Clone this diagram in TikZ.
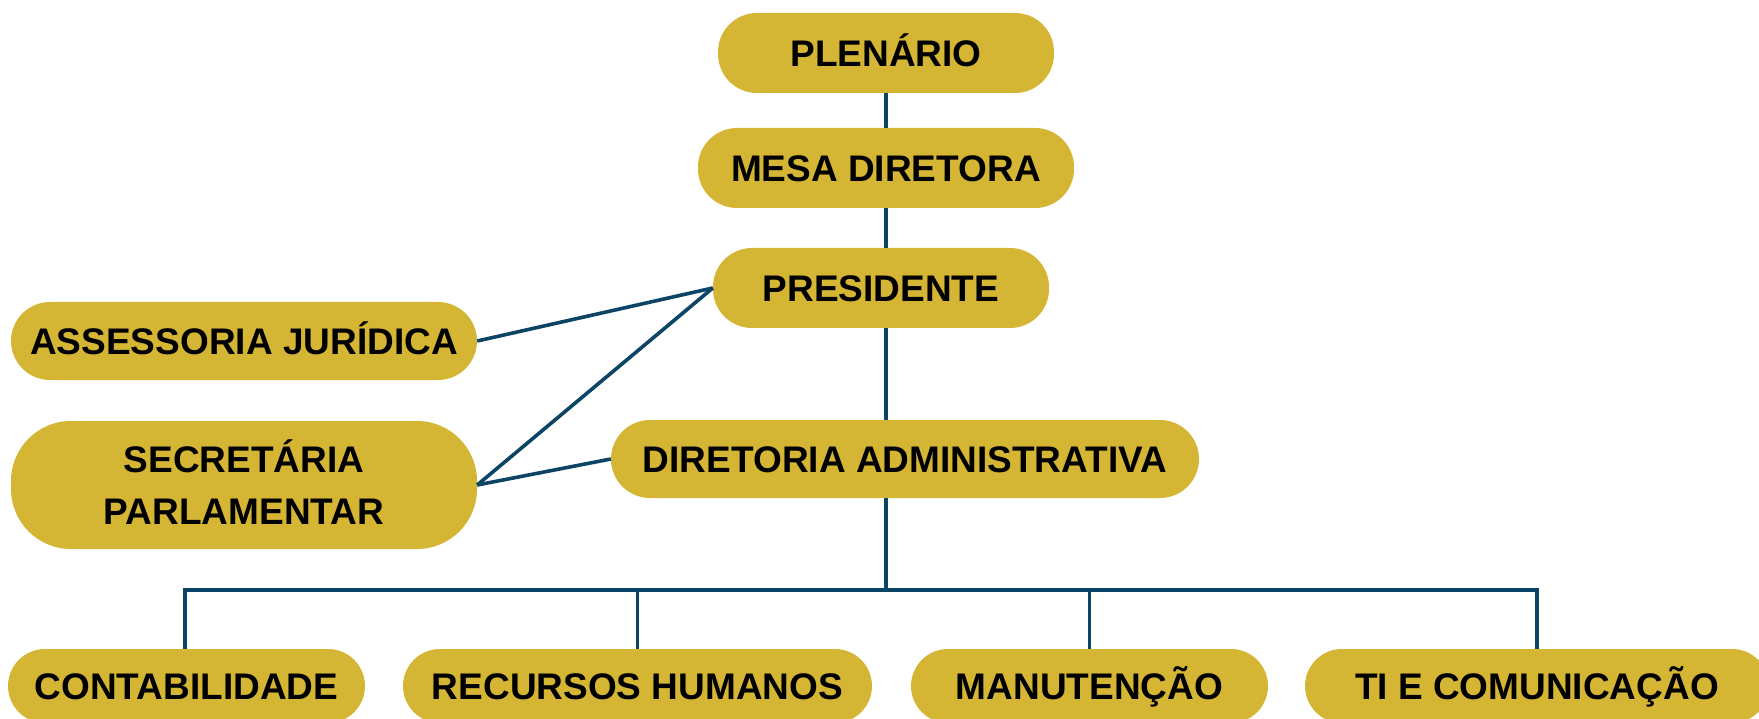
\documentclass[tikz,border=0pt]{standalone}
\usepackage{fontspec}
\setmainfont{Liberation Sans}
\definecolor{boxfill}{RGB}{213,181,52}
\definecolor{linkblue}{RGB}{12,68,102}
\begin{document}
\begin{tikzpicture}[x=1pt,y=-1pt,
  orgbox/.style={fill=boxfill, draw=none, rounded corners=39pt, inner sep=0pt,
    minimum height=80pt, align=center, text height=26.5pt, text depth=0pt,
    font=\fontsize{37}{52}\selectfont\bfseries, text=black},
  lowbox/.style={orgbox, minimum height=74pt, rounded corners=37pt},
  link/.style={draw=linkblue, line width=3.6pt},
]
\useasboundingbox (0,0) rectangle (1759,719);
\node[orgbox, minimum width=336pt] (plen) at (886,53) {PLENÁRIO};
\node[orgbox, minimum width=376pt] (mesa) at (886,168) {MESA DIRETORA};
\node[orgbox, minimum width=336pt] (pres) at (881,288) {PRESIDENTE};
\node[orgbox, minimum width=466pt, minimum height=78pt] (ass) at (244,341) {ASSESSORIA JURÍDICA};
\node[orgbox, minimum width=466pt, minimum height=128pt, rounded corners=60pt, text height=78.5pt] (sec) at (244,485) {SECRETÁRIA\\PARLAMENTAR};
\node[orgbox, minimum width=588pt, minimum height=78pt] (dir) at (905,459) {DIRETORIA ADMINISTRATIVA};
\node[lowbox, minimum width=357pt] (cont) at (186.5,686) {CONTABILIDADE};
\node[lowbox, minimum width=469pt] (rh) at (637.5,686) {RECURSOS HUMANOS};
\node[lowbox, minimum width=357pt] (man) at (1089.5,686) {MANUTENÇÃO};
\node[lowbox, minimum width=464pt] (ti) at (1537,686) {TI E COMUNICAÇÃO};
\coordinate (busL) at (185,590);
\coordinate (busR) at (1537,590);
\coordinate (busM) at (886,590);
\draw[link] (plen.south) -- (mesa.north);
\draw[link] (mesa.south) -- (mesa.south |- pres.north);
\draw[link] (mesa.south |- pres.south) -- (mesa.south |- dir.north);
\draw[link] (mesa.south |- dir.south) -- (busM);
\draw[link] (ass.east) -- (pres.west);
\draw[link] (sec.east) -- (pres.west);
\draw[link] (sec.east) -- (dir.west);
\draw[link, line cap=rect] (busL) -- (busR);
\draw[link] (busL) -- (busL |- cont.north);
\draw[link] (busL -| rh.north) -- (rh.north);
\draw[link] (busL -| man.north) -- (man.north);
\draw[link] (busR) -- (busR |- ti.north);
\end{tikzpicture}
\end{document}
